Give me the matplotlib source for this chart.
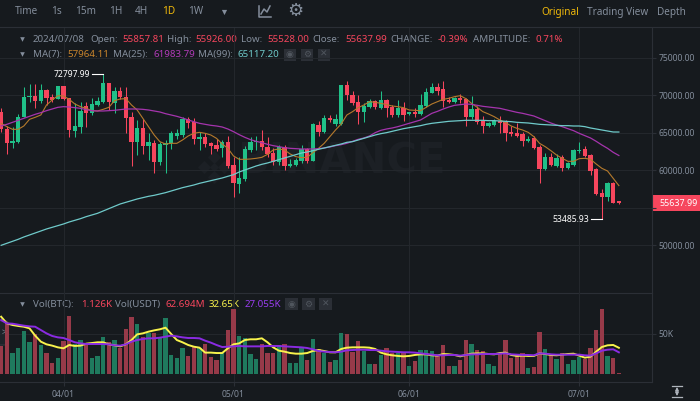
import pandas as pd
import numpy as np
import matplotlib.pyplot as plt
from matplotlib.patches import Rectangle, FancyBboxPatch

# 1. Data (BTC/USDT daily)
dates = pd.date_range('2024-03-21', '2024-07-08', freq='D')

opens = [67836, 65477, 63608, 63830, 67079, 69749, 69927, 69304, 70728, 69749, 69482,
         71262, 69616, 65299, 65833, 68592, 67613, 68725, 69171, 71618, 68948, 70639,
         69838, 67168, 63786, 65610, 63252, 63697, 61072, 63341, 63608, 64587, 64765,
         66812, 66411, 64142, 64409, 63697, 63430, 62940, 63830, 60671, 58223, 58802,
         62718, 63786, 63964, 63163, 62273, 61116, 63074, 60627, 60715, 61294, 62807,
         61294, 66100, 65077, 67034, 66189, 66189, 71395, 70105, 69171, 67836, 68414,
         69215, 68325, 69393, 68414, 67435, 68325, 67479, 67746, 67524, 68592, 70372,
         71084, 70817, 69393, 69171, 69616, 69482, 67079, 68236, 66634, 65922, 66100,
         66634, 66500, 65166, 64943, 64854, 63964, 64275, 63163, 60181, 61739, 60627,
         61739, 60315, 60715, 62540, 62851, 62050, 60226, 57022, 56399, 58268, 55857.81]
highs = [68280, 65922, 65833, 67524, 71084, 71529, 71529, 71485, 70817, 70194, 71262,
         71262, 69616, 68948, 69171, 69171, 69616, 69838, 72797.99, 71618, 71084, 71173,
         71173, 67836, 66723, 66812, 64943, 64053, 63830, 64053, 65299, 65477, 67168,
         67079, 66945, 65121, 64943, 63830, 64142, 64053, 64632, 61828, 61828, 63297,
         64409, 64587, 65388, 64409, 62940, 63341, 63386, 61472, 61605, 63341, 62940,
         66367, 66634, 67391, 67391, 67524, 71440, 71929, 70639, 70061, 68948, 69482,
         69393, 70639, 69526, 68725, 69393, 69082, 67836, 68280, 70194, 70950, 71618,
         71707, 71929, 69749, 69838, 70194, 69616, 69927, 68592, 67257, 66456, 66812,
         67257, 66723, 65922, 66367, 65166, 64587, 64587, 63341, 62273, 62362, 62184,
         62050, 61160, 62851, 63830, 63252, 62184, 60359, 57467, 58402, 58402, 55926]
lows = [65165, 62184, 62940, 63697, 67079, 69171, 68280, 68948, 68725, 69171, 69482,
        69393, 64498, 64409, 65032, 65833, 67391, 68592, 68948, 68058, 67702, 69482,
        64943, 60582, 62050, 62184, 61383, 59603, 60715, 59603, 62807, 64142, 64498,
        65610, 63519, 62718, 63163, 62184, 62629, 61739, 60270, 56488, 56933, 58624,
        62495, 62718, 62718, 61828, 60715, 60671, 60048, 60493, 60627, 60938, 60938,
        61205, 64587, 64943, 66500, 65922, 66055, 69393, 68681, 66189, 66500, 68280,
        68147, 68147, 67168, 67079, 67079, 66634, 67346, 67168, 67391, 68503, 70283,
        70061, 68414, 69037, 69037, 69037, 65922, 66812, 66189, 65032, 65744, 65922,
        64943, 63964, 64587, 64409, 63252, 63830, 62896, 58357, 60048, 60582, 60493,
        59959, 60226, 60627, 62362, 61828, 59336, 56666, 53485.93, 55954, 55598, 55528]
closes = [65477, 63608, 63964, 67168, 69838, 69927, 69304, 70728, 69616, 69393, 71262,
          69571, 65388, 65922, 67969, 67613, 68859, 69304, 71618, 69082, 70639, 69749,
          66990, 63786, 65655, 63297, 63741, 61072, 63475, 63697, 64943, 64943, 66812,
          66278, 64142, 64409, 63519, 63252, 62896, 63786, 60582, 58268, 59024, 62851,
          63830, 63875, 63074, 62184, 61072, 63074, 60582, 60805, 61383, 62851, 61294,
          66189, 65077, 66990, 66723, 66901, 71395, 70061, 68948, 67836, 68592, 69215,
          68414, 69393, 68280, 67435, 68325, 67391, 67746, 67524, 68770, 70505, 71084,
          70639, 69304, 69171, 69616, 69393, 67168, 68236, 66500, 65922, 66278, 66634,
          66367, 65032, 64854, 64587, 63964, 64231, 63029, 60137, 61739, 60671, 61650,
          60270, 60938, 62718, 62718, 61962, 59959, 56844, 56488, 58268, 55687, 55637.99]

ma7 = [66278, 65833, 65477, 65477, 65922, 66812, 67079, 67391, 68725, 69393, 69971,
       69927, 69482, 68859, 68503, 68280, 67969, 67925, 68147, 68414, 69304, 69526,
       69571, 68725, 68058, 66945, 65833, 64720, 63830, 63519, 63608, 63608, 64053,
       64587, 64943, 65077, 64943, 64720, 64275, 63519, 62940, 61917, 61472, 61472,
       61517, 61606, 61739, 62139, 62718, 62851, 62718, 62184, 61828, 61694, 61739,
       62362, 62940, 63608, 64498, 65388, 66189, 67391, 67836, 68370, 68725, 69171,
       69082, 68948, 68770, 68592, 68503, 68370, 68058, 68014, 67969, 68414, 68859,
       69171, 69482, 69616, 69838, 69971, 69571, 68948, 68414, 67836, 67524, 67168,
       66723, 66367, 65922, 65610, 65388, 65077, 64498, 63608, 63163, 62629, 62050,
       61606, 61205, 61205, 61561, 61606, 61472, 60849, 60270, 59914, 58936, 57964.11]
ma25 = [65922, 66144, 66411, 66679, 66945, 67212, 67479, 67702, 67969, 68191, 68414,
        68503, 68459, 68370, 68280, 68103, 67969, 67925, 67925, 67969, 68014, 68103,
        68191, 68191, 68191, 68147, 68058, 67925, 67791, 67568, 67391, 67212, 66990,
        66723, 66500, 66278, 66144, 66011, 65922, 65788, 65521, 65165, 64765, 64409,
        64098, 63875, 63697, 63475, 63297, 63163, 63029, 62940, 62896, 62851, 62851,
        62851, 62896, 62985, 63119, 63297, 63430, 63608, 63875, 64142, 64320, 64587,
        65032, 65343, 65521, 65655, 65833, 66055, 66278, 66500, 66723, 67168, 67613,
        67880, 68191, 68459, 68681, 68770, 68859, 68815, 68681, 68547, 68459, 68370,
        68280, 68103, 67925, 67747, 67613, 67435, 67257, 66945, 66634, 66322, 66055,
        65833, 65566, 65299, 64943, 64632, 64320, 63875, 63385, 62940, 62407, 61983.79]
ma99 = [49991, 50258, 50525, 50792, 51104, 51370, 51637, 51904, 52172, 52394, 52617,
        52839, 53106, 53328, 53551, 53818, 54040, 54263, 54575, 54886, 55198, 55509,
        55732, 55954, 56177, 56355, 56533, 56666, 56844, 57022, 57245, 57467, 57690,
        57868, 58046, 58268, 58446, 58624, 58802, 58980, 59203, 59425, 59781, 60048,
        60315, 60582, 60805, 60983, 61205, 61428, 61650, 61873, 62095, 62317, 62451,
        62629, 62807, 62985, 63163, 63341, 63519, 63742, 63830, 64053, 64275, 64498,
        64720, 64899, 65032, 65210, 65388, 65566, 65700, 65833, 65966, 66144, 66278,
        66367, 66456, 66545, 66589, 66634, 66679, 66679, 66679, 66679, 66634, 66634,
        66589, 66545, 66500, 66411, 66367, 66322, 66233, 66144, 66100, 66055, 66011,
        65966, 65966, 65922, 65922, 65833, 65655, 65522, 65388, 65255, 65121, 65117.20]

# volume in thousands of BTC
volumes = [35.3, 62.7, 26.7, 32.0, 53.3, 39.4, 49.2, 36.1, 26.2, 13.9, 20.5,
           41.4, 71.8, 36.9, 42.2, 36.1, 20.5, 22.1, 45.9, 39.4, 42.2, 32.0,
           55.8, 70.9, 61.5, 45.5, 50.4, 50.4, 44.3, 69.7, 23.8, 20.5, 32.0,
           23.0, 34.0, 32.0, 36.9, 21.3, 17.6, 25.8, 54.5, 80.4, 47.6, 44.3,
           25.0, 18.9, 36.9, 25.8, 26.7, 36.1, 36.9, 13.9, 13.5, 34.0, 17.6,
           43.5, 31.2, 26.2, 15.6, 18.0, 50.8, 49.6, 27.9, 41.0, 28.7, 12.7,
           12.7, 23.8, 32.8, 25.8, 25.8, 27.9, 9.8, 16.4, 29.9, 29.9, 29.1,
           23.8, 36.1, 10.7, 10.7, 18.0, 41.8, 37.3, 29.9, 28.7, 12.3, 10.3,
           25.8, 42.2, 20.5, 23.0, 26.2, 8.2, 9.0, 52.1, 31.6, 23.8, 18.9,
           25.8, 12.3, 17.6, 21.7, 18.9, 32.0, 54.5, 80.4, 22.1, 19.7, 1.126]
vol_ma_a = [70.9, 62.7, 60.7, 59.5, 58.6, 56.6, 47.6, 40.2, 36.9, 35.3, 33.2,
            32.0, 36.1, 34.9, 35.3, 37.7, 38.5, 39.4, 39.4, 36.9, 35.7, 34.4,
            36.9, 42.2, 49.2, 50.4, 52.5, 54.1, 55.4, 57.4, 49.6, 42.2, 39.4,
            36.1, 34.0, 32.8, 26.7, 26.7, 26.2, 26.2, 32.0, 36.9, 38.1, 42.2,
            43.1, 43.1, 44.3, 39.4, 33.2, 29.1, 27.9, 26.2, 25.4, 25.4, 26.2,
            28.7, 29.9, 28.7, 27.1, 27.1, 31.2, 32.8, 33.2, 33.2, 33.2, 32.8,
            31.2, 26.7, 24.6, 23.4, 22.6, 22.1, 22.6, 23.8, 24.6, 24.6, 23.4,
            23.0, 25.0, 24.6, 23.8, 22.1, 23.8, 25.4, 25.8, 25.8, 25.0, 24.6,
            26.2, 26.7, 23.8, 22.6, 23.0, 22.6, 22.6, 25.8, 25.0, 23.8, 23.4,
            24.2, 25.0, 25.4, 23.0, 20.5, 21.7, 27.9, 33.6, 35.7, 36.1, 32.65]
vol_ma_b = [66.8, 62.7, 62.3, 61.1, 59.9, 59.0, 58.6, 54.5, 50.4, 47.2, 45.5,
            44.7, 42.2, 39.4, 38.1, 37.3, 37.3, 37.3, 37.3, 36.9, 35.7, 35.3,
            36.9, 40.2, 42.2, 43.5, 44.3, 44.3, 45.1, 46.3, 47.6, 46.7, 45.5,
            44.7, 44.7, 44.3, 41.4, 39.0, 36.1, 33.6, 34.0, 34.4, 34.9, 34.4,
            34.4, 34.4, 34.4, 34.9, 34.9, 34.9, 34.4, 34.0, 33.6, 33.2, 32.4,
            30.8, 28.7, 27.9, 27.5, 27.1, 27.9, 29.5, 29.9, 30.3, 30.3, 29.9,
            29.9, 29.1, 28.3, 27.9, 27.5, 27.1, 27.1, 26.7, 25.8, 25.0, 24.2,
            23.4, 23.4, 23.8, 23.8, 23.0, 23.8, 24.6, 24.6, 25.0, 25.0, 25.0,
            25.4, 25.8, 24.6, 24.2, 23.8, 23.8, 23.4, 25.8, 25.4, 24.6, 24.2,
            24.2, 24.2, 24.2, 24.2, 23.4, 23.0, 25.8, 29.1, 30.3, 30.8, 27.055]

price_ticks = [50000, 55000, 60000, 65000, 70000, 75000]
vol_ticks = [50]
date_ticks = ['2024-04-01', '2024-05-01', '2024-06-01', '2024-07-01']
intervals = ['Time', '1s', '15m', '1H', '4H', '1D', '1W']

# 2. Colours and general setup
BG = '#161a1e'
GRID = '#23272c'
LINE = '#2b2f36'
GREY = '#848e9c'
UP = '#20c088'
DOWN = '#f6465d'
YELLOW = '#f0b90b'
MARK = '#1c2025'

plt.rcParams['font.family'] = ['Noto Sans', 'DejaVu Sans']
plt.rcParams['font.size'] = 6.8

W, H = 700, 401
fig = plt.figure(figsize=(W / 100, H / 100), dpi=100, facecolor=BG)


def px_axes(left, top, right, bottom):
    return fig.add_axes([left / W, 1 - bottom / H, (right - left) / W, (bottom - top) / H])


# page furniture is drawn in a pixel axes behind the panes
bg = px_axes(0, 0, W, H)
bg.set_xlim(0, W)
bg.set_ylim(H, 0)
bg.axis('off')
bg.set_zorder(0)

price_ax = px_axes(0, 27.5, 652, 293)
vol_ax = px_axes(0, 293, 652, 381.7)
x = np.arange(len(dates))
x_left = -0.206
x_right = x_left + 652 / 5.667

for ax in (price_ax, vol_ax):
    ax.set_facecolor('none')
    ax.set_zorder(2)
    ax.set_xlim(x_left, x_right)
    ax.yaxis.tick_right()
    for name in ('left', 'top'):
        ax.spines[name].set_visible(False)
    for name in ('right', 'bottom'):
        ax.spines[name].set_color(LINE)
        ax.spines[name].set_linewidth(0.8)
    ax.tick_params(axis='both', colors=LINE, labelcolor=GREY, length=3, width=0.8, labelsize=6.2, pad=1.5)
    ax.grid(True, color=GRID, linewidth=0.8)
    ax.set_axisbelow(True)

# 3. Candles
price_ax.set_ylim(43625, 79072)
colors = [UP if c >= o else DOWN for o, c in zip(opens, closes)]
body_low = np.minimum(opens, closes)
body_size = np.abs(np.array(closes) - np.array(opens))
price_ax.vlines(x, lows, highs, colors=colors, linewidth=0.75, zorder=3)
price_ax.bar(x, body_size, bottom=body_low, width=0.76, color=colors, linewidth=0, zorder=3)

price_ax.plot(x, ma7, color='#b57a2c', linewidth=0.8, zorder=4)
price_ax.plot(x, ma25, color='#a534ad', linewidth=0.9, zorder=4)
price_ax.plot(x, ma99, color='#6fcaca', linewidth=0.9, zorder=4)

# the 55000 label sits under the last price tag
price_ax.set_yticks(price_ticks)
price_ax.set_yticklabels(['' if p == 55000 else f'{p:.2f}' for p in price_ticks])
price_ax.tick_params(axis='x', length=0, labelbottom=False)

# high and low callouts
hi_i = int(np.argmax(highs))
lo_i = int(np.argmin(lows))
for i, val in ((hi_i, highs[hi_i]), (lo_i, lows[lo_i])):
    price_ax.plot([i - 1.9, i], [val, val], color='white', linewidth=0.8, zorder=5)
    price_ax.text(i - 2.3, val, f'{val:.2f}', color='white', fontsize=6.2, ha='right', va='center', zorder=5)

# last price tag
tag_y = 1 - (price_ax.transData.transform((0, closes[-1]))[1]) / H
bg_y = tag_y * H
bg.add_patch(Rectangle((652, bg_y - 8), 48, 16, color=DOWN, linewidth=0, zorder=3))
bg.text(659, bg_y, f'{closes[-1]:.2f}', color='white', fontsize=6.4, va='center', zorder=4)

# 4. Volume
vol_ax.set_ylim(-9.1, 100.1)
vol_colors = ['#1f7a5e' if c == UP else '#973a49' for c in colors]
vol_ax.bar(x, volumes, width=0.76, color=vol_colors, linewidth=0, zorder=3)
vol_ax.plot(x, vol_ma_a, color='#f8f34c', linewidth=1.4, zorder=4)
vol_ax.plot(x, vol_ma_b, color='#8a2be2', linewidth=1.4, zorder=5)
vol_ax.set_yticks(vol_ticks)
vol_ax.set_yticklabels([f'{v}K' for v in vol_ticks])

tick_pos = [dates.get_loc(pd.Timestamp(d)) for d in date_ticks]
vol_ax.set_xticks(tick_pos)
vol_ax.set_xticklabels([pd.Timestamp(d).strftime('%m/%d') for d in date_ticks])
vol_ax.tick_params(axis='x', pad=3)
price_ax.set_xticks(tick_pos)

# 5. Watermark behind the candles
bg.text(237, 161, 'BINANCE', color=MARK, fontsize=30, fontweight='bold', va='center', family='DejaVu Sans')
for cx, cy, s in ((214, 157, 45), (204, 167, 45), (224, 167, 45), (214, 177, 45), (214, 167, 22)):
    bg.scatter([cx], [cy], marker='D', s=s, color=MARK, linewidth=0)

# 6. Toolbar and header rows
bg.plot([0, W], [27.2, 27.2], color=LINE, linewidth=0.8)
for label, tx in zip(intervals, [15, 51, 75, 109, 135, 162, 188]):
    bg.text(tx, 12, label, color=YELLOW if label == '1D' else GREY, fontsize=7.2, va='center')
bg.scatter([224], [11.5], marker='v', s=14, color=GREY, linewidth=0)

# chart icon
bg.plot([259, 259, 271], [6, 17, 17], color=GREY, linewidth=1.1)
bg.plot([261, 264, 267, 270], [14, 9, 12, 6], color=GREY, linewidth=1.1)
bg.text(295, 11, '\u2699', color=GREY, fontsize=13, ha='center', va='center', family='DejaVu Sans')

for label, tx, col in (('Original', 541, YELLOW), ('Trading View', 587, GREY), ('Depth', 657, GREY)):
    bg.text(tx, 12.5, label, color=col, fontsize=7.2, va='center')

row_ohlc = [('2024/07/08', 33, GREY), ('Open:', 90, GREY), (f'{opens[-1]:.2f}', 122, DOWN),
            ('High:', 167, GREY), (f'{highs[-1]:.2f}', 195, DOWN), ('Low:', 241, GREY),
            (f'{lows[-1]:.2f}', 267, DOWN), ('Close:', 312, GREY), (f'{closes[-1]:.2f}', 345, DOWN),
            ('CHANGE:', 390, GREY), ('-0.39%', 438, DOWN), ('AMPLITUDE:', 473, GREY), ('0.71%', 536, DOWN)]
row_ma = [('MA(7):', 33, GREY), (f'{ma7[-1]:.2f}', 67.5, '#c8842c'), ('MA(25):', 113, GREY),
          (f'{ma25[-1]:.2f}', 153, '#b13bb8'), ('MA(99):', 198, GREY), (f'{ma99[-1]:.2f}', 238, '#6fcaca')]
row_vol = [('Vol(BTC):', 33, GREY), (f'{volumes[-1]:.3f}K', 81, DOWN), ('Vol(USDT)', 115, GREY),
           ('62.694M', 166, DOWN), (f'{vol_ma_a[-1]:.2f}K', 209, '#f8f34c'), (f'{vol_ma_b[-1]:.3f}K', 245, '#9a3df0')]
for row, ty in ((row_ohlc, 39.5), (row_ma, 54.5), (row_vol, 304.5)):
    for label, tx, col in row:
        bg.text(tx, ty, label, color=col, fontsize=7, va='center')
    bg.scatter([21.5], [ty - 0.5], marker='v', s=11, color=GREY, linewidth=0)

# small eye / gear / close buttons
for bx, by in ((283.5, 48.5), (285, 298)):
    for k, glyph in enumerate(('\u25c9', '\u2699', '\u2715')):
        bg.add_patch(Rectangle((bx + k * 17, by), 12.5, 12, color='#2b2f36', linewidth=0))
        bg.text(bx + k * 17 + 6.2, by + 6, glyph, color='#50565e', fontsize=6.5, ha='center', va='center', family='DejaVu Sans')

# collapse tab on the left of the volume pane
bg.add_patch(FancyBboxPatch((-4, 321), 12, 24, boxstyle='round,pad=0,rounding_size=2', facecolor='#1e2329', edgecolor='#3a3f47', linewidth=0.6, zorder=3))
bg.text(4, 333, '>', color=GREY, fontsize=6, ha='center', va='center', zorder=4)

# auto-scale icon bottom right
bg.plot([672, 682], [386, 386], color='#aeb4bc', linewidth=0.9)
bg.plot([672, 682], [396.5, 396.5], color='#aeb4bc', linewidth=0.9)
bg.annotate('', xy=(677, 387), xytext=(677, 396), arrowprops=dict(arrowstyle='<|-|>', color='#aeb4bc', lw=0.8, mutation_scale=5, shrinkA=0, shrinkB=0))

# 7. Save
fig.savefig('out.png', dpi=100, facecolor=BG)
